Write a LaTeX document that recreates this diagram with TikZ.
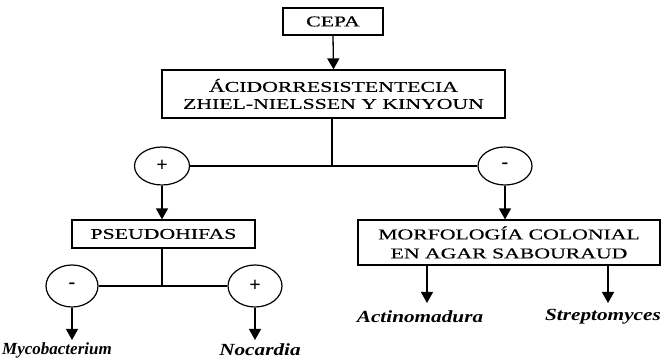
\documentclass[tikz,border=0pt]{standalone}
\usepackage{fontspec}
\setmainfont{Liberation Serif}
\newfontfamily\boxfont[FakeStretch=1.45,FakeBold=0.4]{Liberation Serif}
\newfontfamily\genusfont[FakeStretch=1.25]{Liberation Serif}
\usetikzlibrary{arrows.meta,shapes.geometric}
\begin{document}
\begin{tikzpicture}[x=1pt,y=-1pt,
  box/.style={draw,line width=1.2pt,rectangle,inner sep=0pt,align=center,font=\boxfont\fontsize{15}{17}\selectfont},
  sign/.style={draw,line width=1.2pt,ellipse,inner sep=0pt,font=\fontsize{20}{20}\selectfont\bfseries},
  genus/.style={inner sep=1pt,font=\genusfont\fontsize{17}{17}\selectfont\bfseries\itshape},
  link/.style={line width=1.3pt},
  arr/.style={line width=1.3pt,-{Triangle[width=12pt,length=11pt]}}]
\useasboundingbox (0,0) rectangle (665,363);

% boxes
\node[box,minimum width=100pt,minimum height=27pt] (cepa) at (333,21.5) {CEPA};
\node[box,minimum width=343pt,minimum height=48pt] (acid) at (333.5,94)
  {ÁCIDORRESISTENTECIA\\ZHIEL-NIELSSEN Y KINYOUN};
\node[box,minimum width=183pt,minimum height=28pt] (pseudo) at (163.5,234) {PSEUDOHIFAS};
\node[box,minimum width=302pt,minimum height=45pt,font=\boxfont\fontsize{15}{19}\selectfont] (morfo) at (509,242.5)
  {MORFOLOGÍA COLONIAL\\EN AGAR SABOURAUD};

% sign ellipses
\node[sign,minimum width=55pt,minimum height=38pt] (plus1) at (162,166) {+};
\node[sign,minimum width=54pt,minimum height=38pt] (minus1) at (505,166) {-};
\node[sign,minimum width=52pt,minimum height=42pt] (minus2) at (72,286) {-};
\node[sign,minimum width=54pt,minimum height=42pt] (plus2) at (255,286) {+};

% genus labels
\node[genus,font=\fontsize{17}{17}\selectfont\bfseries\itshape] (myco) at (57,350) {Mycobacterium};
\node[genus] (noc) at (260,350) {Nocardia};
\node[genus] (acti) at (420,317) {Actinomadura};
\node[genus] (strep) at (603,317) {Streptomyces};

% branch points and free ends
\coordinate (j1) at (332,166);
\coordinate (j2) at (162,286);
\coordinate (a1) at (427,265);
\coordinate (a1e) at (427,303);
\coordinate (s1) at (608,265);
\coordinate (s1e) at (608,303);
\coordinate (m1e) at (72,340);
\coordinate (n1e) at (255,340);

% connectors
\draw[arr] (cepa.south) -- (acid.north);
\draw[link] (acid.south -| j1) -- (j1);
\draw[link] (plus1.east) -- (minus1.west);
\draw[arr] (plus1.south) -- (plus1.south |- pseudo.north);
\draw[arr] (minus1.south) -- (minus1.south |- morfo.north);
\draw[link] (pseudo.south -| j2) -- (j2);
\draw[link] (minus2.east) -- (plus2.west);
\draw[arr] (minus2.south) -- (m1e);
\draw[arr] (plus2.south) -- (n1e);
\draw[arr] (a1) -- (a1e);
\draw[arr] (s1) -- (s1e);
\end{tikzpicture}
\end{document}
